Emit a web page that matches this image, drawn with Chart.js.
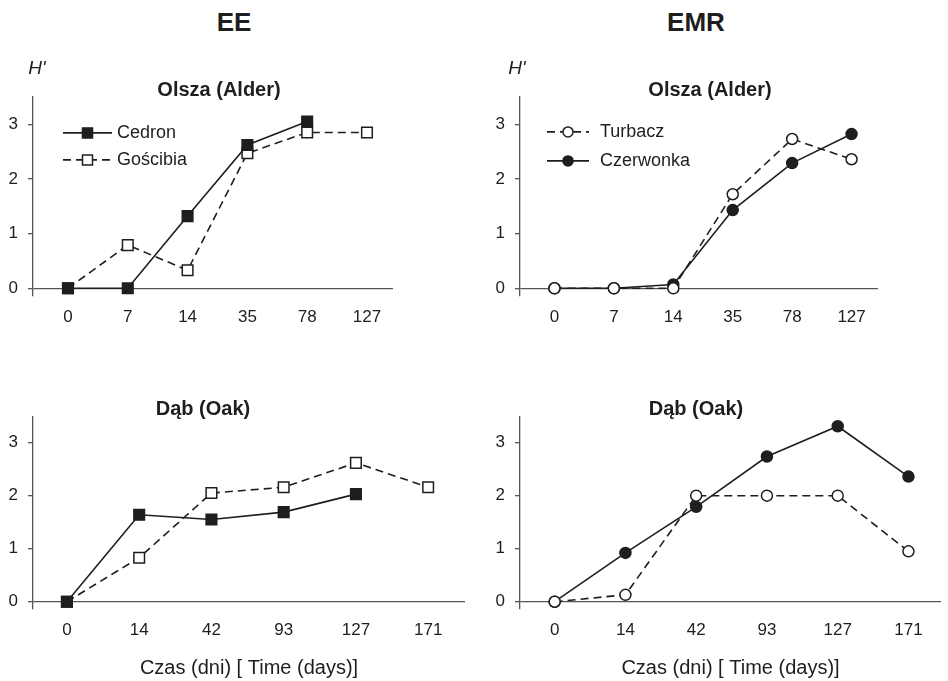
<!DOCTYPE html>
<html>
<head>
<meta charset="utf-8">
<title>H' - EE / EMR</title>
<script src="https://cdn.jsdelivr.net/npm/chart.js@4.4.1/dist/chart.umd.min.js"></script>
<style>
  body { margin: 0; background: #fff; font-family: "Liberation Sans", Arial, sans-serif; color: #1e1e1e; }
  #wrap { position: relative; width: 948px; height: 681px; overflow: hidden; background: #fff; }
  canvas { position: absolute; }
  .lbl { position: absolute; white-space: nowrap; transform: translate(-50%, -50%); line-height: 1; }
  .head { font-weight: bold; font-size: 26px; }
  .sub { font-weight: bold; font-size: 20px; }
  .hp { font-style: italic; font-size: 19px; }
</style>
</head>
<body>
<div id="wrap">
  <canvas id="tl" width="474" height="310" style="left:0; top:40px"></canvas>
  <canvas id="tr" width="474" height="310" style="left:474px; top:40px"></canvas>
  <canvas id="bl" width="474" height="321" style="left:0; top:360px"></canvas>
  <canvas id="br" width="474" height="321" style="left:474px; top:360px"></canvas>

  <div class="lbl head" style="left:234px; top:22px">EE</div>
  <div class="lbl head" style="left:696px; top:22px">EMR</div>
  <div class="lbl hp" style="left:37px; top:67px">H'</div>
  <div class="lbl hp" style="left:517px; top:67px">H'</div>
  <div class="lbl sub" style="left:219px; top:89px">Olsza (Alder)</div>
  <div class="lbl sub" style="left:710px; top:89px">Olsza (Alder)</div>
  <div class="lbl sub" style="left:203px; top:408px">Dąb (Oak)</div>
  <div class="lbl sub" style="left:696px; top:408px">Dąb (Oak)</div>
</div>
<script>
  // days of sampling (equally spaced on the x axis)
  const alderDays = ['0', '7', '14', '35', '78', '127'];
  const oakDays = ['0', '14', '42', '93', '127', '171'];
  // H' axis ticks
  const hTicks = [0, 1, 2, 3];

  // Shannon index H'
  const alderCedron = [0, 0, 1.32, 2.62, 3.05, null];
  const alderGoscibia = [0, 0.79, 0.33, 2.47, 2.85, 2.85];
  const alderTurbacz = [0, 0, 0, 1.72, 2.73, 2.36];
  const alderCzerwonka = [0, 0, 0.07, 1.43, 2.29, 2.82];

  const oakCedron = [0, 1.64, 1.55, 1.69, 2.03, null];
  const oakGoscibia = [0, 0.83, 2.05, 2.16, 2.62, 2.16];
  const oakTurbacz = [0, 0.13, 2.0, 2.0, 2.0, 0.95];
  const oakCzerwonka = [0, 0.92, 1.79, 2.74, 3.31, 2.36];

  const xTitle = 'Czas (dni) [ Time (days)]';

  const ink = '#1e1e1e';
  const axisInk = '#555';
  Chart.defaults.font.family = '"Liberation Sans", Arial, sans-serif';
  Chart.defaults.color = ink;

  // each sampling date sits at its index on the x axis
  function series(label, values, pointStyle, filled, dashed) {
    return {
      label,
      data: values.map((v, i) => ({ x: i, y: v })),
      borderColor: ink, borderWidth: 1.6,
      borderDash: dashed ? [8, 5] : [],
      pointStyle,
      pointRadius: pointStyle === 'rect' ? 7.5 : 5.5,
      pointBorderWidth: 1.5,
      pointBackgroundColor: filled ? ink : '#fff',
      pointBorderColor: ink,
      tension: 0, spanGaps: false, clip: false
    };
  }

  // legend drawn inside the plot: short line with marker, then label
  function drawMarker(ctx, ds, x, y, r) {
    ctx.beginPath();
    if (ds.pointStyle === 'rect') ctx.rect(x - r, y - r, 2 * r, 2 * r);
    else ctx.arc(x, y, r, 0, Math.PI * 2);
    ctx.fillStyle = ds.pointBackgroundColor;
    ctx.fill();
    ctx.lineWidth = ds.pointBorderWidth;
    ctx.strokeStyle = ds.pointBorderColor;
    ctx.stroke();
  }

  const lineLegend = {
    id: 'lineLegend',
    afterDatasetsDraw(chart, args, o) {
      if (!o.display) return;
      const { ctx, chartArea } = chart;
      ctx.save();
      chart.data.datasets.forEach((ds, row) => {
        const x = chartArea.left + o.x;
        const y = chartArea.top + o.y + row * o.gap;
        ctx.strokeStyle = ds.borderColor;
        ctx.lineWidth = ds.borderWidth;
        ctx.setLineDash(ds.borderDash);
        ctx.beginPath();
        ctx.moveTo(x, y);
        ctx.lineTo(x + o.len, y);
        ctx.stroke();
        ctx.setLineDash([]);
        drawMarker(ctx, ds, x + o.len / 2, y, 5);
        ctx.fillStyle = ink;
        ctx.font = '18px "Liberation Sans", Arial, sans-serif';
        ctx.textAlign = 'left';
        ctx.textBaseline = 'middle';
        ctx.fillText(ds.label, x + o.len + o.textGap, y);
      });
      ctx.restore();
    }
  };

  function makeChart(id, days, datasets, opt) {
    return new Chart(document.getElementById(id), {
      type: 'line',
      data: { datasets },
      options: {
        responsive: false,
        animation: false,
        layout: { padding: opt.padding },
        plugins: {
          legend: { display: false },
          tooltip: { enabled: false },
          lineLegend: opt.legend || { display: false }
        },
        scales: {
          x: {
            type: 'linear',
            min: opt.xMin, max: opt.xMax, bounds: 'data',
            grid: { display: false, drawTicks: false },
            border: { display: false },
            ticks: {
              color: ink, font: { size: 17 }, padding: 12, autoSkip: false, maxRotation: 0,
              callback: v => days[v]
            },
            afterBuildTicks: s => { s.ticks = days.map((d, i) => ({ value: i })); },
            title: opt.xTitle
              ? { display: true, text: opt.xTitle, color: ink, font: { size: 20 }, padding: { top: 0, bottom: 1 } }
              : { display: false },
            afterFit: s => { s.height = opt.xHeight; }
          },
          y: {
            min: -0.13, max: 3.5, bounds: 'data',
            ticks: { padding: 10, color: ink, font: { size: 17 } },
            grid: {
              color: c => (c.tick && c.tick.value === 0 ? axisInk : 'rgba(0,0,0,0)'),
              tickColor: axisInk, tickLength: 5, lineWidth: 1.3
            },
            border: { color: axisInk, width: 1.3 },
            afterBuildTicks: s => { s.ticks = hTicks.map(v => ({ value: v })); },
            afterFit: s => { s.width = 33; }
          }
        }
      },
      plugins: [lineLegend]
    });
  }

  makeChart('tl', alderDays, [
    series('Cedron', alderCedron, 'rect', true, false),
    series('Gościbia', alderGoscibia, 'rect', false, true)
  ], {
    padding: { top: 56.9, left: 0, right: 81, bottom: 14.6 }, xHeight: 40,
    xMin: -0.585, xMax: 5.435,
    legend: { display: true, x: 30, y: 36, gap: 27, len: 49, textGap: 5 }
  });

  makeChart('tr', alderDays, [
    series('Turbacz', alderTurbacz, 'circle', false, true),
    series('Czerwonka', alderCzerwonka, 'circle', true, false)
  ], {
    padding: { top: 56.9, left: 13, right: 70, bottom: 14.6 }, xHeight: 40,
    xMin: -0.58, xMax: 5.445,
    legend: { display: true, x: 27, y: 35, gap: 29, len: 42, textGap: 11 }
  });

  makeChart('bl', oakDays, [
    series('Cedron', oakCedron, 'rect', true, false),
    series('Gościbia', oakGoscibia, 'rect', false, true)
  ], {
    padding: { top: 56.2, left: 0, right: 9, bottom: 0 }, xHeight: 72.4, xTitle,
    xMin: -0.47, xMax: 5.51
  });

  makeChart('br', oakDays, [
    series('Turbacz', oakTurbacz, 'circle', false, true),
    series('Czerwonka', oakCzerwonka, 'circle', true, false)
  ], {
    padding: { top: 56.2, left: 13, right: 1, bottom: 0 }, xHeight: 72.4, xTitle,
    xMin: -0.49, xMax: 5.46
  });
</script>
</body>
</html>
